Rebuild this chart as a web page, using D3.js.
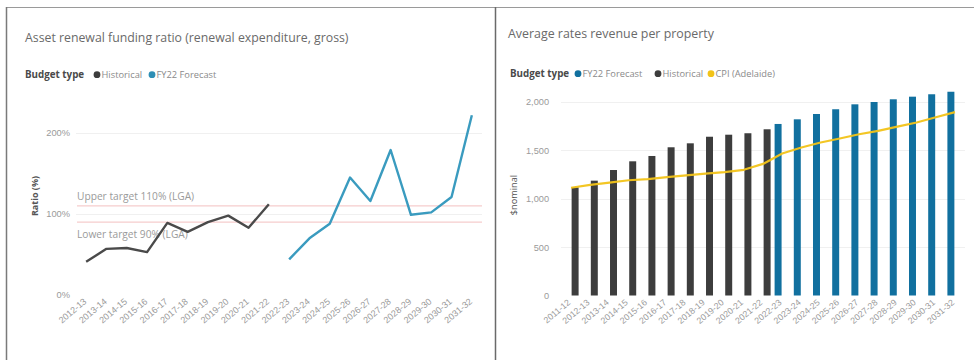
<!DOCTYPE html>
<html><head><meta charset="utf-8">
<script src="https://cdn.jsdelivr.net/npm/d3@7"></script>
<style>
html,body{margin:0;padding:0;background:#fff;}
svg{display:block;font-family:"Open Sans","Noto Sans",sans-serif;}
</style></head>
<body>
<svg id="c" width="974" height="360"></svg>
<script>
// ---------- DATA ----------
const ratioCategories = ["2012-13","2013-14","2014-15","2015-16","2016-17","2017-18","2018-19","2019-20","2020-21","2021-22",
  "2022-23","2023-24","2024-25","2025-26","2026-27","2027-28","2028-29","2029-30","2030-31","2031-32"];
const ratioHistoricalYears = ratioCategories.slice(0,10);
const ratioHistorical = [41, 57, 58, 53, 89, 78, 90, 98, 83, 112];
const ratioForecastYears = ratioCategories.slice(10);
const ratioForecast = [44, 70, 88, 145, 116, 179, 99, 102, 121, 222];
const ratioTicks = [0, 100, 200];
const targetUpper = 110, targetLower = 90;
const targetLabels = ["Upper target 110% (LGA)", "Lower target 90% (LGA)"];

const ratesCategories = ["2011-12","2012-13","2013-14","2014-15","2015-16","2016-17","2017-18","2018-19","2019-20","2020-21","2021-22",
  "2022-23","2023-24","2024-25","2025-26","2026-27","2027-28","2028-29","2029-30","2030-31","2031-32"];
const ratesHistoricalYears = ratesCategories.slice(0,11);
const ratesHistorical = [1118, 1187, 1297, 1387, 1442, 1532, 1573, 1641, 1662, 1677, 1718];
const ratesForecastYears = ratesCategories.slice(11);
const ratesForecast = [1773, 1821, 1876, 1925, 1976, 2000, 2028, 2055, 2080, 2106];
const cpiAdelaide = [1114, 1144, 1167, 1191, 1202, 1223, 1241, 1259, 1276, 1299, 1360,
  1467, 1530, 1581, 1623, 1667, 1702, 1745, 1788, 1842, 1895];
const ratesTicks = [0, 500, 1000, 1500, 2000];
const seriesNames = ["FY22 Forecast", "Historical"];

// ---------- STYLE ----------
const cHist = "#3d3d3d", cFcLine = "#3a9bbf", cFcBar = "#11709f", cCPI = "#f2c318";
const cTick = "#9a9a9a", cTitle = "#6a6a6a";

const svg = d3.select("#c");

// frame
svg.append("line").attr("x1",6).attr("x2",974).attr("y1",7.5).attr("y2",7.5).attr("stroke","#9a9a9a").attr("stroke-width",1);
svg.append("line").attr("x1",6.5).attr("x2",6.5).attr("y1",7).attr("y2",360).attr("stroke","#7a7a7a").attr("stroke-width",1.5);
svg.append("line").attr("x1",495.5).attr("x2",495.5).attr("y1",7).attr("y2",360).attr("stroke","#6a6a6a").attr("stroke-width",1.5);

function legend(g, x, y, items) {
  g.append("text").attr("x",x).attr("y",y).attr("font-size",9.8).attr("font-weight","bold").attr("fill","#4a4a4a").text("Budget type");
  items.forEach(it => {
    g.append("circle").attr("cx",it.x).attr("cy",y-3.3).attr("r",3.4).attr("fill",it.color);
    g.append("text").attr("x",it.x+4.5).attr("y",y).attr("font-size",9.3).attr("fill","#8a8a8a").text(it.label);
  });
}

// ================= LEFT CHART =================
{
  const g = svg.append("g");
  g.append("text").attr("x",25).attr("y",42).attr("font-size",12.3).attr("fill",cTitle)
    .text("Asset renewal funding ratio (renewal expenditure, gross)");
  legend(g, 25, 78, [{x:97,color:cHist,label:"Historical"},{x:152,color:"#2f8fb5",label:"FY22 Forecast"}]);

  const x = d3.scaleBand().domain(ratioCategories).range([76, 482]).padding(0);
  const y = d3.scaleLinear().domain([0, 200]).range([295, 133]);
  const cx = d => x(d) + x.bandwidth()/2;

  // gridlines
  g.append("g").selectAll("line").data(ratioTicks.slice(1)).join("line")
    .attr("x1",76).attr("x2",482).attr("y1",d=>y(d)+0.5).attr("y2",d=>y(d)+0.5)
    .attr("stroke","#f0f0f0").attr("stroke-width",1);

  // y axis
  const ya = g.append("g").attr("transform","translate(72,0)")
    .call(d3.axisLeft(y).tickValues(ratioTicks).tickFormat(d=>d+"%").tickSize(0).tickPadding(2));
  ya.select(".domain").remove();
  ya.selectAll("text").attr("font-size",9.3).attr("fill",cTick).attr("font-family","inherit");

  g.append("text").attr("transform","translate(38,196) rotate(-90)").attr("text-anchor","middle")
    .attr("font-size",9).attr("font-weight","bold").attr("fill","#555").text("Ratio (%)");

  // x axis
  const xa = g.append("g").attr("transform","translate(0,298)")
    .call(d3.axisBottom(x).tickSize(0).tickPadding(0));
  xa.select(".domain").remove();
  xa.selectAll("text").attr("font-size",9).attr("fill",cTick).attr("font-family","inherit")
    .attr("text-anchor","end").attr("dy","0.35em")
    .attr("transform","translate(-1,2) rotate(-40)");

  // target lines
  [targetUpper, targetLower].forEach((t,i) => {
    g.append("line").attr("x1",77).attr("x2",482).attr("y1",y(t)).attr("y2",y(t))
      .attr("stroke","#f3c0c0").attr("stroke-width",1);
  });
  g.append("text").attr("x",77).attr("y",y(targetUpper)-5.5).attr("font-size",10.2).attr("fill","#9a9a9a").text(targetLabels[0]);
  g.append("text").attr("x",77).attr("y",y(targetLower)+16).attr("font-size",10.2).attr("fill","#9a9a9a").text(targetLabels[1]);

  const line = d3.line().x(d=>cx(d[0])).y(d=>y(d[1]));
  g.append("path").datum(d3.zip(ratioHistoricalYears, ratioHistorical)).attr("d",line)
    .attr("fill","none").attr("stroke","#4a4a4a").attr("stroke-width",2.4).attr("stroke-linejoin","round");
  g.append("path").datum(d3.zip(ratioForecastYears, ratioForecast)).attr("d",line)
    .attr("fill","none").attr("stroke",cFcLine).attr("stroke-width",2.4).attr("stroke-linejoin","round");
}

// ================= RIGHT CHART =================
{
  const g = svg.append("g");
  g.append("text").attr("x",508).attr("y",38).attr("font-size",12.4).attr("fill",cTitle)
    .text("Average rates revenue per property");
  legend(g, 510, 77, [{x:578,color:cFcBar,label:"FY22 Forecast"},{x:658,color:cHist,label:"Historical"},{x:711,color:cCPI,label:"CPI (Adelaide)"}]);

  const x0 = d3.scaleBand().domain(ratesCategories).range([561.4, 964.6]).padding(0);
  const x1 = d3.scaleBand().domain(seriesNames).range([2, 17.2]).paddingInner(0.15);
  const y = d3.scaleLinear().domain([0, 2000]).range([295.5, 102]);

  g.append("g").selectAll("line").data(ratesTicks.slice(1)).join("line")
    .attr("x1",561).attr("x2",965).attr("y1",d=>Math.round(y(d))+0.5).attr("y2",d=>Math.round(y(d))+0.5)
    .attr("stroke","#f0f0f0").attr("stroke-width",1);

  const ya = g.append("g").attr("transform","translate(551,0)")
    .call(d3.axisLeft(y).tickValues(ratesTicks).tickFormat(d3.format(",")).tickSize(0).tickPadding(2));
  ya.select(".domain").remove();
  ya.selectAll("text").attr("font-size",9.2).attr("fill",cTick).attr("font-family","inherit");

  g.append("text").attr("transform","translate(517,195) rotate(-90)").attr("text-anchor","middle")
    .attr("font-size",9.2).attr("fill","#555").text("$nominal");

  const xa = g.append("g").attr("transform","translate(0,299)")
    .call(d3.axisBottom(x0).tickSize(0).tickPadding(0));
  xa.select(".domain").remove();
  xa.selectAll("text").attr("font-size",8.8).attr("fill",cTick).attr("font-family","inherit")
    .attr("text-anchor","end").attr("dy","0.35em")
    .attr("transform","translate(-2,2) rotate(-40)");

  const bars = [
    ...d3.zip(ratesHistoricalYears, ratesHistorical).map(d=>({cat:d[0],v:d[1],s:"Historical"})),
    ...d3.zip(ratesForecastYears, ratesForecast).map(d=>({cat:d[0],v:d[1],s:"FY22 Forecast"}))
  ];
  g.append("g").selectAll("rect").data(bars).join("rect")
    .attr("x",d=>x0(d.cat)+x1(d.s)).attr("width",x1.bandwidth())
    .attr("y",d=>y(d.v)).attr("height",d=>y(0)-y(d.v))
    .attr("fill",d=>d.s==="Historical"?cHist:cFcBar);

  const line = d3.line().x(d=>x0(d[0])+x0.bandwidth()/2).y(d=>y(d[1]));
  g.append("path").datum(d3.zip(ratesCategories, cpiAdelaide)).attr("d",line)
    .attr("fill","none").attr("stroke",cCPI).attr("stroke-width",2.2).attr("stroke-linejoin","round").attr("opacity",0.95);
}
</script>
</body></html>
